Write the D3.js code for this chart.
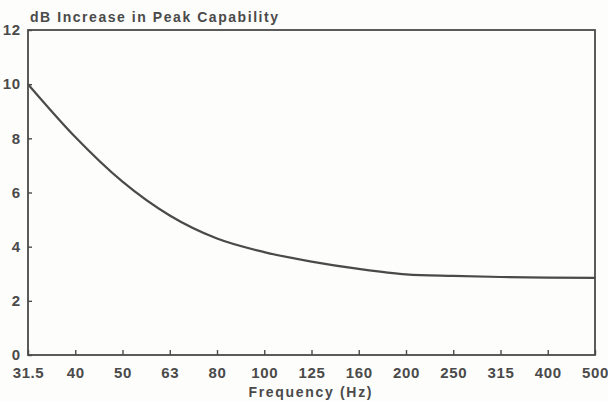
<!DOCTYPE html>
<html>
<head>
<meta charset="utf-8">
<script src="https://cdn.jsdelivr.net/npm/d3@7"></script>
<style>
  body { margin: 0; background: #fdfdfb; }
  svg { display: block; }
  text { font-family: "Liberation Sans", Arial, sans-serif; font-weight: bold; fill: #4a4a4a; }
</style>
</head>
<body>
<script>
// frequency bands (1/3 octave labels, equally spaced)
var freqs = ["31.5", "40", "50", "63", "80", "100", "125", "160", "200", "250", "315", "400", "500"];
// dB increase
var gains = [10.0, 8.05, 6.4, 5.15, 4.3, 3.8, 3.45, 3.18, 2.98, 2.92, 2.88, 2.86, 2.85];
var yTicks = [0, 2, 4, 6, 8, 10, 12];

var W = 608, H = 402;
var margin = { top: 30, right: 13, bottom: 47, left: 28 };
var width = W - margin.left - margin.right;
var height = H - margin.top - margin.bottom;
var ink = "#4a4a4a";

var svg = d3.select("body").append("svg")
    .attr("width", W)
    .attr("height", H);

var g = svg.append("g")
    .attr("transform", "translate(" + margin.left + "," + margin.top + ")");

// x is categorical, evenly spaced
var x = d3.scalePoint()
    .domain(freqs)
    .range([0, width]);

var y = d3.scaleLinear()
    .domain([0, 12])
    .range([height, 0]);

// frame
g.append("rect")
    .attr("x", 0).attr("y", 0)
    .attr("width", width).attr("height", height)
    .style("fill", "none")
    .style("stroke", ink)
    .style("stroke-width", 1.8);

// y axis, ticks pointing inward
var yAxis = d3.axisLeft(y)
    .tickValues(yTicks)
    .tickSize(-4)
    .tickPadding(7);

var ya = g.append("g").call(yAxis);
ya.select(".domain").remove();
ya.selectAll("line").style("stroke", ink).style("stroke-width", 1.4);
ya.selectAll("text")
    .style("font-size", "15px")
    .style("letter-spacing", "0.8px")
    .style("fill", "#4a4a4a")
    .attr("font-family", null);

// x axis, ticks pointing up
var xAxis = d3.axisBottom(x)
    .tickSize(-5)
    .tickPadding(12);

var xa = g.append("g")
    .attr("transform", "translate(0," + height + ")")
    .call(xAxis);
xa.select(".domain").remove();
xa.selectAll("line").style("stroke", ink).style("stroke-width", 1.4);
xa.selectAll("text")
    .style("font-size", "15px")
    .style("letter-spacing", "0.6px")
    .style("fill", "#4a4a4a")
    .attr("font-family", null);

// the curve
var line = d3.line()
    .x(function(d, i) { return x(freqs[i]); })
    .y(function(d) { return y(d); })
    .curve(d3.curveMonotoneX);

g.append("path")
    .datum(gains)
    .attr("d", line)
    .style("fill", "none")
    .style("stroke", ink)
    .style("stroke-width", 2.2);

// titles
svg.append("text")
    .attr("x", 30)
    .attr("y", 22)
    .attr("textLength", 248)
    .attr("lengthAdjust", "spacing")
    .style("font-size", "14px")
    .text("dB Increase in Peak Capability");

svg.append("text")
    .attr("x", 310)
    .attr("y", 397)
    .attr("text-anchor", "middle")
    .attr("textLength", 123)
    .attr("lengthAdjust", "spacing")
    .style("font-size", "14px")
    .text("Frequency (Hz)");
</script>
</body>
</html>
